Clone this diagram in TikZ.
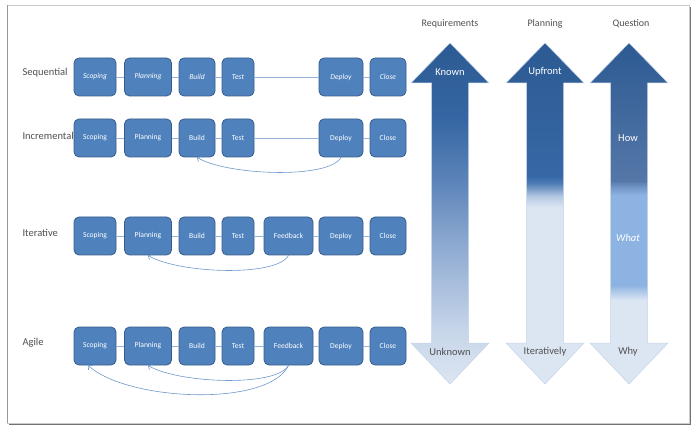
\documentclass[tikz,border=0pt]{standalone}
\usepackage{fontspec}
\setmainfont{Carlito}
\usetikzlibrary{arrows.meta}
\usepackage{xcolor}

\definecolor{boxfill}{HTML}{4F81BD}
\definecolor{boxline}{HTML}{385D8A}
\definecolor{linkline}{HTML}{95B3D7}
\definecolor{loopline}{HTML}{7098CC}
\definecolor{labelgray}{HTML}{505050}
\definecolor{pale}{HTML}{DCE6F2}
\definecolor{deep}{HTML}{2C5A92}
\definecolor{arrowedge}{HTML}{C3D4EA}
\definecolor{reqA}{HTML}{C6D5E9}
\definecolor{reqB}{HTML}{8FABD1}
\definecolor{reqC}{HTML}{5B83B8}
\definecolor{reqD}{HTML}{3566A3}
\definecolor{planB}{HTML}{B5C9E3}
\definecolor{planC}{HTML}{4B7AB4}
\definecolor{planD}{HTML}{3768A6}
\definecolor{qlight}{HTML}{8DB3E2}
\definecolor{qmid}{HTML}{6F92C4}
\definecolor{qgray}{HTML}{5577A8}

% shadings for the three scales (25bp = bottom, 75bp = top)
\pgfdeclareverticalshading{reqshade}{100bp}{color(0bp)=(pale); color(25bp)=(pale);
  color(33bp)=(reqA); color(45bp)=(reqB); color(55bp)=(reqC); color(64bp)=(reqD);
  color(75bp)=(deep); color(100bp)=(deep)}
\pgfdeclareverticalshading{planshade}{100bp}{color(0bp)=(pale); color(50.9bp)=(pale);
  color(52.5bp)=(planB); color(54.5bp)=(planC); color(55.5bp)=(planD);
  color(75bp)=(deep); color(100bp)=(deep)}
\pgfdeclareverticalshading{qshade}{100bp}{color(0bp)=(pale); color(37.3bp)=(pale);
  color(39.5bp)=(qlight); color(52.7bp)=(qlight); color(54bp)=(qmid);
  color(54.8bp)=(qgray); color(75bp)=(deep); color(100bp)=(deep)}

% double headed scale arrow centred at x = #1
\newcommand{\scalearrow}[2]{%
  \shadedraw[shading=#2, draw=arrowedge, line width=0.5pt]
    (#1,391) -- (#1+39,351) -- (#1+18.5,351) -- (#1+18.5,91) -- (#1+39,91)
    -- (#1,50) -- (#1-39,91) -- (#1-18.5,91) -- (#1-18.5,351) -- (#1-39,351) -- cycle;}

\begin{document}
\begin{tikzpicture}[x=1pt, y=1pt,
    stage/.style = {draw=boxline, fill=boxfill, rounded corners=5pt, line width=0.8pt,
      minimum height=38pt, inner sep=0pt, text=white, font=\fontsize{7.6}{8}\selectfont},
    slant/.style = {font=\fontsize{7.6}{8}\selectfont\itshape},
    link/.style = {draw=linkline, line width=0.8pt},
    loop/.style = {draw=loopline, line width=0.6pt, -{Straight Barb[length=3pt,width=6pt]}},
    method/.style = {anchor=west, text=labelgray, font=\fontsize{10.5}{12}\selectfont},
    heading/.style = {text=labelgray, font=\fontsize{10}{12}\selectfont},
    onscale/.style = {text=white, font=\fontsize{10.5}{12}\selectfont},
    underscale/.style = {text=labelgray, font=\fontsize{10.5}{12}\selectfont}]
  \useasboundingbox (0,0) rectangle (698,434);

  % frame
  \fill[black!55] (9,9) rectangle (691,427);
  \filldraw[fill=white, draw=black!20] (7,11) rectangle (689,429);
  \draw[black!40, line width=1.5pt] (7.5,11) -- (7.5,429);

  % row labels
  \node[method] (seq) at (19,361) {Sequential};
  \node[method] (inc) at (19,298) {Incremental};
  \node[method] (ite) at (19,201) {Iterative};
  \node[method] (agi) at (19,91) {Agile};

  % sequential
  \node[stage, slant, minimum width=42pt] (sco1) at (95,357) {Scoping};
  \node[stage, slant, minimum width=47pt] (pla1) at (148,357) {Planning};
  \node[stage, slant, minimum width=36pt] (bui1) at (197,357) {Build};
  \node[stage, slant, minimum width=32pt] (tes1) at (238,357) {Test};
  \node[stage, slant, minimum width=44pt] (dep1) at (341,357) {Deploy};
  \node[stage, slant, minimum width=36pt] (clo1) at (388,357) {Close};

  % incremental
  \node[stage, minimum width=42pt] (sco2) at (95,296) {Scoping};
  \node[stage, minimum width=47pt] (pla2) at (148,296) {Planning};
  \node[stage, minimum width=36pt] (bui2) at (197,296) {Build};
  \node[stage, minimum width=32pt] (tes2) at (238,296) {Test};
  \node[stage, minimum width=44pt] (dep2) at (341,296) {Deploy};
  \node[stage, minimum width=36pt] (clo2) at (388,296) {Close};

  % iterative
  \node[stage, minimum width=42pt] (sco3) at (95,198) {Scoping};
  \node[stage, minimum width=47pt] (pla3) at (148,198) {Planning};
  \node[stage, minimum width=36pt] (bui3) at (197,198) {Build};
  \node[stage, minimum width=32pt] (tes3) at (238,198) {Test};
  \node[stage, minimum width=49pt] (fee3) at (288.5,198) {Feedback};
  \node[stage, minimum width=44pt] (dep3) at (341,198) {Deploy};
  \node[stage, minimum width=36pt] (clo3) at (388,198) {Close};

  % agile
  \node[stage, minimum width=42pt] (sco4) at (95,88) {Scoping};
  \node[stage, minimum width=47pt] (pla4) at (148,88) {Planning};
  \node[stage, minimum width=36pt] (bui4) at (197,88) {Build};
  \node[stage, minimum width=32pt] (tes4) at (238,88) {Test};
  \node[stage, minimum width=49pt] (fee4) at (288.5,88) {Feedback};
  \node[stage, minimum width=44pt] (dep4) at (341,88) {Deploy};
  \node[stage, minimum width=36pt] (clo4) at (388,88) {Close};

  % links
  \draw[link] (sco1) -- (pla1); \draw[link] (pla1) -- (bui1); \draw[link] (bui1) -- (tes1);
  \draw[link] (tes1) -- (dep1); \draw[link] (dep1) -- (clo1);
  \draw[link] (sco2) -- (pla2); \draw[link] (pla2) -- (bui2); \draw[link] (bui2) -- (tes2);
  \draw[link] (tes2) -- (dep2); \draw[link] (dep2) -- (clo2);
  \draw[link] (sco3) -- (pla3); \draw[link] (pla3) -- (bui3); \draw[link] (bui3) -- (tes3);
  \draw[link] (tes3) -- (fee3); \draw[link] (fee3) -- (dep3); \draw[link] (dep3) -- (clo3);
  \draw[link] (sco4) -- (pla4); \draw[link] (pla4) -- (bui4); \draw[link] (bui4) -- (tes4);
  \draw[link] (tes4) -- (fee4); \draw[link] (fee4) -- (dep4); \draw[link] (dep4) -- (clo4);

  % loops back
  \draw[loop] (dep2.south) .. controls +(-12,-22) and +(30,-18) .. (bui2.south);
  \draw[loop] (fee3.south) .. controls +(-12,-22) and +(30,-18) .. (pla3.south);
  \draw[loop] (fee4.south) .. controls +(-12,-22) and +(30,-18) .. (pla4.south);
  \draw[loop] (fee4.south) .. controls +(-20,-42) and +(40,-36) .. ([xshift=-7pt]sco4.south);

  % scales
  \scalearrow{450}{reqshade}
  \scalearrow{545}{planshade}
  \scalearrow{629}{qshade}

  \node[heading] (req) at (450,410) {Requirements};
  \node[heading] (pla) at (545,410) {Planning};
  \node[heading] (que) at (631,410) {Question};

  \node[onscale] (known) at (450,362) {Known};
  \node[onscale] (upfront) at (545,362) {Upfront};
  \node[onscale] (how) at (628,296) {How};
  \node[onscale, font=\fontsize{10.5}{12}\selectfont\itshape] (what) at (628,196) {What};
  \node[underscale] (unknown) at (450,82) {Unknown};
  \node[underscale] (iter) at (545,82) {Iteratively};
  \node[underscale] (why) at (628,82) {Why};
\end{tikzpicture}
\end{document}
